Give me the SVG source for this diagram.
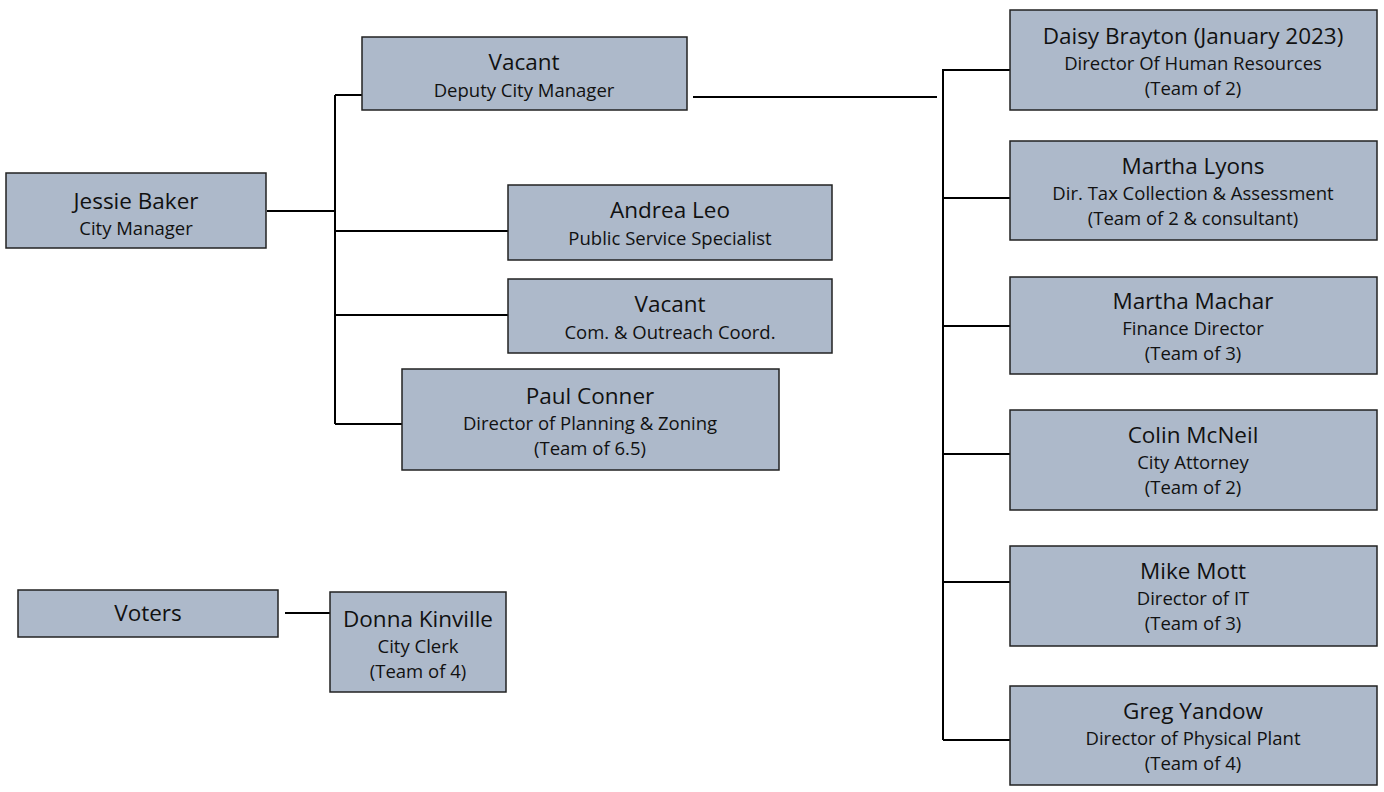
<svg xmlns="http://www.w3.org/2000/svg" width="1384" height="792" viewBox="0 0 1384 792">
<style>
.box{fill:#adb9ca;stroke:#222;stroke-width:1.5}
.n{font-family:"Open Sans","Noto Sans","Liberation Sans",sans-serif;font-size:22.5px;fill:#111;text-anchor:middle}
.s{font-family:"Open Sans","Noto Sans","Liberation Sans",sans-serif;font-size:18.5px;fill:#111;text-anchor:middle}
.c{fill:none;stroke:#000;stroke-width:2}
</style>
<rect width="1384" height="792" fill="#fff"/>
<g id="connectors">
<path class="c" d="M267 211H335M335 95V424M335 95H362M335 231H508M335 315H508M335 424H402"/>
<path class="c" d="M693 97H937M943 69V740M943 70H1010M943 198H1010M943 326H1010M943 454H1010M943 582H1010M943 740H1010"/>
<path class="c" d="M285 613H330"/>
</g>
<g id="jessie"><rect class="box" x="6" y="173" width="260" height="75"/><text class="n" x="136" y="209">Jessie Baker</text><text class="s" x="136" y="235">City Manager</text></g>
<g id="deputy"><rect class="box" x="362" y="37" width="325" height="73"/><text class="n" x="524" y="70">Vacant</text><text class="s" x="524" y="97">Deputy City Manager</text></g>
<g id="andrea"><rect class="box" x="508" y="185" width="324" height="75"/><text class="n" x="670" y="218">Andrea Leo</text><text class="s" x="670" y="245">Public Service Specialist</text></g>
<g id="vacant-com"><rect class="box" x="508" y="279" width="324" height="74"/><text class="n" x="670" y="312">Vacant</text><text class="s" x="670" y="339">Com. &amp; Outreach Coord.</text></g>
<g id="paul"><rect class="box" x="402" y="369" width="377" height="101"/><text class="n" x="590" y="404">Paul Conner</text><text class="s" x="590" y="430">Director of Planning &amp; Zoning</text><text class="s" x="590" y="455">(Team of 6.5)</text></g>
<g id="voters"><rect class="box" x="18" y="590" width="260" height="47"/><text class="n" x="148" y="621">Voters</text></g>
<g id="donna"><rect class="box" x="330" y="592" width="176" height="100"/><text class="n" x="418" y="627">Donna Kinville</text><text class="s" x="418" y="653">City Clerk</text><text class="s" x="418" y="678">(Team of 4)</text></g>
<g id="daisy"><rect class="box" x="1010" y="10" width="367" height="100"/><text class="n" x="1193" y="44">Daisy Brayton (January 2023)</text><text class="s" x="1193" y="70">Director Of Human Resources</text><text class="s" x="1193" y="95">(Team of 2)</text></g>
<g id="lyons"><rect class="box" x="1010" y="141" width="367" height="99"/><text class="n" x="1193" y="174">Martha Lyons</text><text class="s" x="1193" y="200">Dir. Tax Collection &amp; Assessment</text><text class="s" x="1193" y="225">(Team of 2 &amp; consultant)</text></g>
<g id="machar"><rect class="box" x="1010" y="277" width="367" height="97"/><text class="n" x="1193" y="309">Martha Machar</text><text class="s" x="1193" y="335">Finance Director</text><text class="s" x="1193" y="360">(Team of 3)</text></g>
<g id="mcneil"><rect class="box" x="1010" y="410" width="367" height="100"/><text class="n" x="1193" y="443">Colin McNeil</text><text class="s" x="1193" y="469">City Attorney</text><text class="s" x="1193" y="494">(Team of 2)</text></g>
<g id="mott"><rect class="box" x="1010" y="546" width="367" height="100"/><text class="n" x="1193" y="579">Mike Mott</text><text class="s" x="1193" y="605">Director of IT</text><text class="s" x="1193" y="630">(Team of 3)</text></g>
<g id="yandow"><rect class="box" x="1010" y="686" width="367" height="99"/><text class="n" x="1193" y="719">Greg Yandow</text><text class="s" x="1193" y="745">Director of Physical Plant</text><text class="s" x="1193" y="770">(Team of 4)</text></g>
</svg>
